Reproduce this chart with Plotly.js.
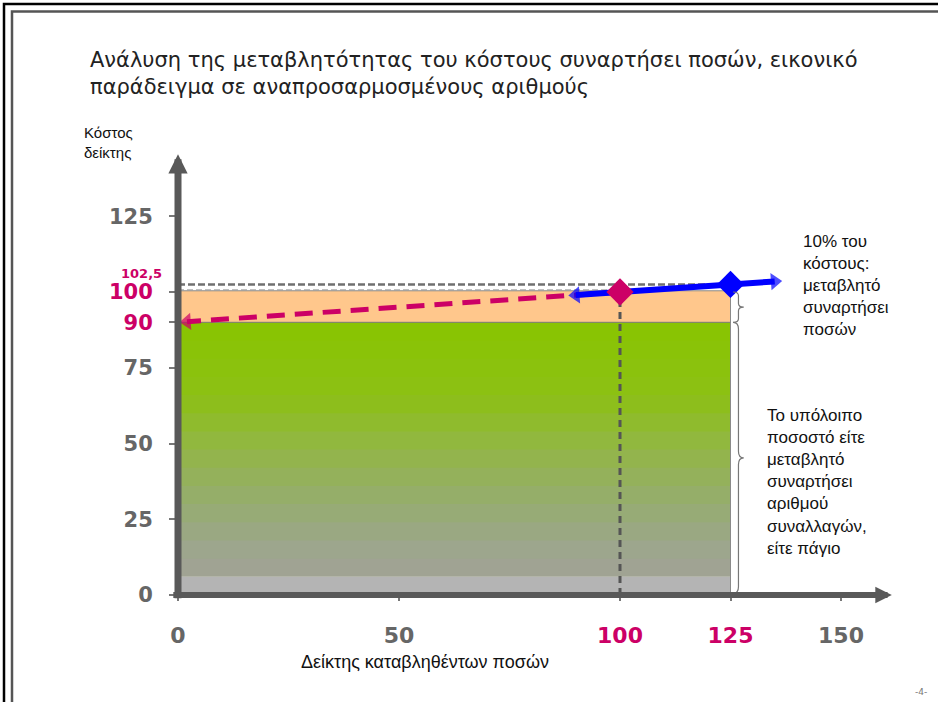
<!DOCTYPE html>
<html><head><meta charset="utf-8">
<script src="https://cdn.plot.ly/plotly-3.0.1.min.js"></script>
<style>html,body{margin:0;padding:0;background:#fff}#chart{width:938px;height:702px}</style>
</head><body><div id="chart"></div>
<script>
// ---- data ----
const titleLines = ["Ανάλυση της μεταβλητότητας του κόστους συναρτήσει ποσών, εικονικό", "παράδειγμα σε αναπροσαρμοσμένους αριθμούς"];
const yAxisLabel = ["Κόστος", "δείκτης"];
const xAxisLabel = "Δείκτης καταβληθέντων ποσών";
const yTickVals = [0, 25, 50, 75, 90, 100, 125];
const yTickHighlight = [90, 100];
const xTickVals = [0, 50, 100, 125, 150];
const xTickHighlight = [100, 125];
const refQty = 125;          // quantity index of the bar
const fixedShare = 90;       // cost not depending on amounts
const baseCost = 100;        // cost at index 100
const costAtRef = 102.5;     // cost at index 125
const refLabel = "102,5";
const redQty = [100, 0];
const redCost = [100, 90];
const blueQty = [90, 125, 135];
const blueCost = [99, 102.5, 103.5];
const noteVariable = ["10% του", "κόστους:", "μεταβλητό", "συναρτήσει", "ποσών"];
const noteRest = ["Το υπόλοιπο", "ποσοστό είτε", "μεταβλητό", "συναρτήσει", "αριθμού", "συναλλαγών,", "είτε πάγιο"];
const pageNo = "-4-";

// ---- geometry helpers ----
const W = 938, H = 702, M = {l: 178, r: 38, t: 140, b: 107};
const pw = W - M.l - M.r, ph = H - M.t - M.b;
const xMax = pw / 4.42, yMax = ph / 3.03;
const px = x => (x - M.l) / pw;
const py = y => (H - M.b - y) / ph;

const RED = '#cc0066', BLUE = '#0000ff', AX = '#595959', TICKC = '#666666';

// gradient bands of the bar (style only)
const gradStops = [[0, [180,180,180]], [6, [162,162,150]], [16, [156,166,140]], [30, [150,172,112]], [48, [146,182,70]], [66, [140,192,20]], [fixedShare, [136,196,0]]];
function colAt(v) {
  for (let i = 1; i < gradStops.length; i++) {
    if (v <= gradStops[i][0]) {
      const [a, ca] = gradStops[i-1], [b, cb] = gradStops[i];
      const t = (v - a) / (b - a);
      return 'rgb(' + ca.map((c, k) => Math.round(c + (cb[k] - c) * t)).join(',') + ')';
    }
  }
  return 'rgb(136,196,0)';
}
const shapes = [];
shapes.push({type:'rect', xref:'x', yref:'y', x0:0, x1:refQty, y0:0, y1:6, fillcolor:'#b4b4b4', line:{width:0}, layer:'below'});
const step = 6;
for (let v = 6; v < fixedShare; v += step) {
  const top = Math.min(v + step, fixedShare);
  shapes.push({type:'rect', xref:'x', yref:'y', x0:0, x1:refQty, y0:v, y1:top + 0.3, fillcolor:colAt((v+top)/2), line:{width:0}, layer:'below'});
}
shapes.push({type:'rect', xref:'x', yref:'y', x0:0, x1:refQty, y0:fixedShare, y1:baseCost + 0.4, fillcolor:'#ffc78c', line:{width:0}, layer:'below'});
shapes.push({type:'rect', xref:'x', yref:'y', x0:0, x1:refQty, y0:0, y1:baseCost + 0.4, fillcolor:'rgba(0,0,0,0)', line:{width:1, color:'#8a8a8a'}, layer:'below'});
shapes.push({type:'line', xref:'x', yref:'y', x0:0, x1:refQty, y0:fixedShare, y1:fixedShare, line:{width:1, color:'#7a7a7a'}, layer:'below'});
// dashed reference lines
shapes.push({type:'line', xref:'x', yref:'y', x0:0, x1:refQty, y0:costAtRef, y1:costAtRef, line:{width:2.5, color:'#707070', dash:'7px,3px'}, layer:'below'});
shapes.push({type:'line', xref:'x', yref:'y', x0:0, x1:redQty[0], y0:baseCost + 0.7, y1:baseCost + 0.7, line:{width:1, color:'#9a9a9a', dash:'6px,3px'}, layer:'below'});
shapes.push({type:'line', xref:'x', yref:'y', x0:redQty[0], x1:redQty[0], y0:0, y1:baseCost, line:{width:3, color:'#555', dash:'7px,5px'}, layer:'below'});
// braces
function brace(x0, yTop, yBot, w, d) {
  const xm = x0 + w / 2, ym = (yTop + yBot) / 2;
  return `M ${x0},${yTop} Q ${xm},${yTop} ${xm},${yTop - d} L ${xm},${ym + d} Q ${xm},${ym} ${x0 + w},${ym} Q ${xm},${ym} ${xm},${ym - d} L ${xm},${yBot + d} Q ${xm},${yBot} ${x0},${yBot}`;
}
shapes.push({type:'path', xref:'x', yref:'y', path: brace(refQty + 0.6, baseCost, fixedShare, 2.4, 1.2), line:{width:1.2, color:'#777'}});
shapes.push({type:'path', xref:'x', yref:'y', path: brace(refQty + 0.6, fixedShare, 0.5, 2.4, 2.2), line:{width:1.2, color:'#777'}});
// page frame
shapes.push({type:'rect', xref:'paper', yref:'paper', x0:px(4), x1:px(960), y0:py(720), y1:py(4), line:{width:2.5, color:'#000'}, fillcolor:'rgba(0,0,0,0)'});
shapes.push({type:'rect', xref:'paper', yref:'paper', x0:px(12), x1:px(960), y0:py(720), y1:py(11.5), line:{width:2.5, color:'#555'}, fillcolor:'rgba(0,0,0,0)'});

const fmtTick = (v, hl) => hl.includes(v) ? `<span style="color:${RED}">${v}</span>` : String(v);

const arrowLine = (xs, ys, color, dash, standoff) => ({x: xs, y: ys, mode:'lines+markers', cliponaxis:false, hoverinfo:'skip',
   line:{color, width:dash ? 5 : 6, dash: dash || 'solid'},
   marker:{color, symbol:['circle','triangle-up'], size:[0, 15], angleref:'previous', standoff: standoff || 0, line:{width:0}}});

const traces = [
  arrowLine(redQty, redCost, RED, '18px,10px', 9),
  arrowLine([blueQty[1], blueQty[0]], [blueCost[1], blueCost[0]], BLUE),
  arrowLine([blueQty[1], blueQty[2]], [blueCost[1], blueCost[2]], BLUE),
  {x:[redQty[0]], y:[redCost[0]], mode:'markers', cliponaxis:false, hoverinfo:'skip', marker:{symbol:'diamond', size:21, color:RED, line:{width:0}}},
  {x:[blueQty[1]], y:[blueCost[1]], mode:'markers', cliponaxis:false, hoverinfo:'skip', marker:{symbol:'diamond', size:21, color:BLUE, line:{width:0}}}
];

const txt = (text, x, y, xa, ya, size, extra) => Object.assign({xref:'paper', yref:'paper', x:px(x), y:py(y), xanchor:xa, yanchor:ya, text, showarrow:false, align:'left',
  font:{family:'Liberation Sans, Arial, sans-serif', size, color:'#111'}}, extra || {});

const annotations = [
  // axis lines with arrow heads
  {xref:'x', yref:'y', axref:'x', ayref:'y', x:0, y:145.5, ax:0, ay:-1.6, text:'', showarrow:true, arrowhead:2, arrowsize:0.55, arrowwidth:7, arrowcolor:AX},
  {xref:'x', yref:'y', axref:'x', ayref:'y', x:161.5, y:0, ax:-1.4, ay:0, text:'', showarrow:true, arrowhead:2, arrowsize:0.55, arrowwidth:6, arrowcolor:AX},
  txt(yAxisLabel.join('<br>'), 82, 122, 'left', 'top', 15),
  txt(noteVariable.join('<br>'), 801, 230, 'left', 'top', 17),
  txt(noteRest.join('<br>'), 765, 404, 'left', 'top', 17),
  txt(xAxisLabel, 425, 662, 'center', 'middle', 18),
  txt(pageNo, 921, 692, 'center', 'middle', 9, {font:{family:'DejaVu Sans', size:9, color:'#777'}}),
  {xref:'x', yref:'y', x:0, y:costAtRef, xanchor:'right', yanchor:'middle', xshift:-14, yshift:11, text:refLabel, showarrow:false,
   font:{family:'DejaVu Sans', size:13, color:RED, weight:'bold'}}
];

const layout = {
  width: W, height: H, margin: M, paper_bgcolor:'#fff', plot_bgcolor:'#fff', showlegend:false,
  title: {text: titleLines.join('<br>'), xref:'container', yref:'container', x: 90 / W, xanchor:'left', y: 1 - 67 / H, yanchor:'top',
          font:{family:'DejaVu Sans, sans-serif', size:21, color:'#222'}},
  xaxis: {range:[0, xMax], showgrid:false, zeroline:false, showline:false, tickvals:xTickVals,
          ticktext: xTickVals.map(v => fmtTick(v, xTickHighlight)), ticks:'outside', ticklen:5, tickwidth:2, tickcolor:'#777',
          ticklabelstandoff:16, tickfont:{family:'DejaVu Sans', size:22, color:TICKC, weight:'bold'}, fixedrange:true},
  yaxis: {range:[0, yMax], showgrid:false, zeroline:false, showline:false, tickvals:yTickVals,
          ticktext: yTickVals.map(v => fmtTick(v, yTickHighlight)), ticks:'outside', ticklen:8, tickwidth:2, tickcolor:'#777',
          ticklabelstandoff:12, tickfont:{family:'DejaVu Sans', size:21, color:TICKC, weight:'bold'}, fixedrange:true},
  shapes, annotations
};
Plotly.newPlot('chart', traces, layout, {displayModeBar:false, staticPlot:true});
</script></body></html>
